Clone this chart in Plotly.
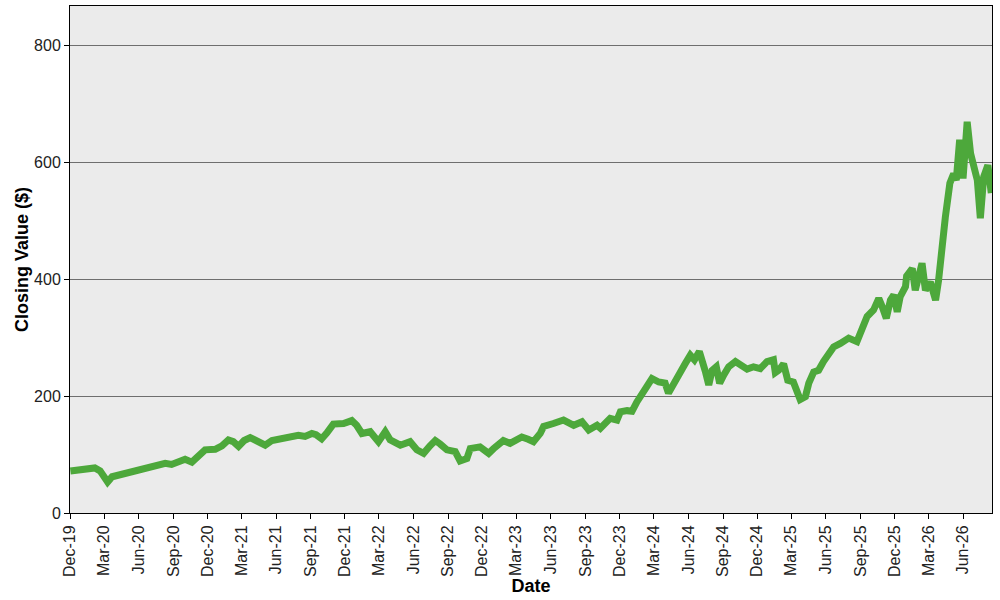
import plotly.graph_objects as go

dates = [
    "2019-12-02", "2019-12-27", "2020-01-18", "2020-02-05", "2020-02-19", "2020-03-10",
    "2020-03-22", "2020-04-12", "2020-05-13", "2020-06-04", "2020-07-01", "2020-07-22",
    "2020-08-10", "2020-08-27", "2020-09-13", "2020-10-02", "2020-10-20", "2020-11-05",
    "2020-11-24", "2020-12-21", "2021-01-08", "2021-01-25", "2021-02-07", "2021-02-21",
    "2021-03-08", "2021-03-24", "2021-04-11", "2021-05-03", "2021-05-21", "2021-06-16",
    "2021-07-08", "2021-07-30", "2021-08-17", "2021-09-04", "2021-09-15", "2021-09-30",
    "2021-10-14", "2021-10-31", "2021-11-27", "2021-12-19", "2022-01-01", "2022-01-15",
    "2022-02-06", "2022-02-28", "2022-03-18", "2022-03-31", "2022-04-27", "2022-05-23",
    "2022-06-10", "2022-06-28", "2022-07-15", "2022-07-29", "2022-08-11", "2022-08-29",
    "2022-09-20", "2022-10-03", "2022-10-21", "2022-10-30", "2022-11-25", "2022-12-18",
    "2022-12-31", "2023-01-26", "2023-02-13", "2023-03-16", "2023-04-02", "2023-04-16",
    "2023-05-04", "2023-05-13", "2023-06-08", "2023-07-05", "2023-08-01", "2023-08-23",
    "2023-09-10", "2023-10-02", "2023-10-11", "2023-11-06", "2023-11-24",
    "2023-12-03", "2023-12-21", "2024-01-03", "2024-01-16", "2024-01-29", "2024-02-12",
    "2024-02-25", "2024-03-14", "2024-03-31", "2024-04-09", "2024-04-23", "2024-05-10",
    "2024-05-24", "2024-06-06", "2024-06-17", "2024-06-30", "2024-07-07", "2024-07-16",
    "2024-07-25", "2024-08-03", "2024-08-14", "2024-08-23", "2024-09-03", "2024-09-16",
    "2024-10-04", "2024-10-21", "2024-11-04", "2024-11-21", "2024-12-09", "2024-12-27",
    "2025-01-13", "2025-01-18", "2025-01-27", "2025-02-09", "2025-02-20", "2025-03-07",
    "2025-03-25", "2025-04-08", "2025-04-17", "2025-04-30", "2025-05-13", "2025-05-26",
    "2025-06-09", "2025-06-22", "2025-07-10", "2025-08-01", "2025-08-23", "2025-09-06",
    "2025-09-19", "2025-10-06", "2025-10-20", "2025-10-29", "2025-11-09", "2025-11-20",
    "2025-11-29", "2025-12-08", "2025-12-16", "2025-12-30", "2026-01-02", "2026-01-17",
    "2026-01-25", "2026-02-12", "2026-02-21", "2026-03-06", "2026-03-20", "2026-03-28",
    "2026-04-06", "2026-04-15", "2026-04-27", "2026-05-07", "2026-05-14", "2026-05-23",
    "2026-06-01", "2026-06-12", "2026-06-21", "2026-06-30", "2026-07-09", "2026-07-17",
    "2026-07-26", "2026-08-06", "2026-08-15",
]

closing = [
    72, 73, 74, 77, 72, 53,
    62, 65, 70, 74, 78, 82,
    85, 83, 87, 92, 87, 98,
    108, 109, 115, 125, 122, 114,
    124, 129, 124, 116, 124, 128,
    130, 133, 131, 136, 134, 127,
    137, 152, 153, 158, 150, 136,
    139, 122, 139, 125, 116, 122,
    108, 102, 115, 124, 118, 108,
    105, 89, 93, 110, 113, 102,
    110, 124, 119, 130, 126, 122,
    136, 148, 153, 159, 150, 156,
    142, 150, 145, 162, 159,
    173, 175, 174, 190, 202, 213,
    230, 224, 222, 205, 222, 244,
    256, 270, 262, 276, 256, 242,
    219, 244, 250, 222, 236, 250,
    259, 253, 246, 250, 247, 259,
    262, 240, 244, 255, 227, 224,
    194, 199, 222, 241, 244, 259,
    273, 284, 290, 299, 293, 316,
    336, 347, 367, 353, 333, 364,
    373, 344, 370, 387, 405, 418,
    381, 427, 381, 395, 364, 398,
    461, 506, 564, 580, 569, 638,
    572, 669, 615, 592, 569, 504,
    575, 595, 547,
]

y_ticks = [0, 200, 400, 600, 800]

font_family = "Liberation Sans, Arial, sans-serif"

fig = go.Figure()
fig.add_trace(go.Scatter(
    x=dates, y=closing, mode="lines",
    line=dict(color="#4DA83B", width=7),
    showlegend=False,
))

fig.update_layout(
    width=1000, height=600,
    margin=dict(l=70, r=8, t=6, b=87),
    paper_bgcolor="white",
    plot_bgcolor="#EBEBEB",
    font=dict(family=font_family, size=16, color="#222222"),
    xaxis=dict(
        type="date",
        range=["2019-12-01", "2026-08-17"],
        tick0="2019-12-01", dtick="M3",
        tickformat="%b-%y", tickangle=-90,
        showgrid=False,
        showline=True, linecolor="black", linewidth=1, mirror=True,
        ticks="outside", ticklen=5, tickcolor="black",
        automargin=False,
        title=dict(text="<b>Date</b>", font=dict(size=18, color="black"), standoff=0),
        tickfont=dict(size=16, color="#222222"),
    ),
    yaxis=dict(
        range=[0, 867],
        tickvals=y_ticks,
        showgrid=True, gridcolor="#6E6E6E", gridwidth=1,
        zeroline=False,
        showline=True, linecolor="black", linewidth=1, mirror=True,
        ticks="outside", ticklen=5, tickcolor="black",
        automargin=False,
        title=dict(text="<b>Closing Value ($)</b>", font=dict(size=18, color="black"), standoff=0),
        tickfont=dict(size=16, color="#222222"),
    ),
)

fig.write_html(
    "out.html",
    config={"displayModeBar": False},
    post_script="document.body.style.margin='0';document.body.style.overflow='hidden';",
)
